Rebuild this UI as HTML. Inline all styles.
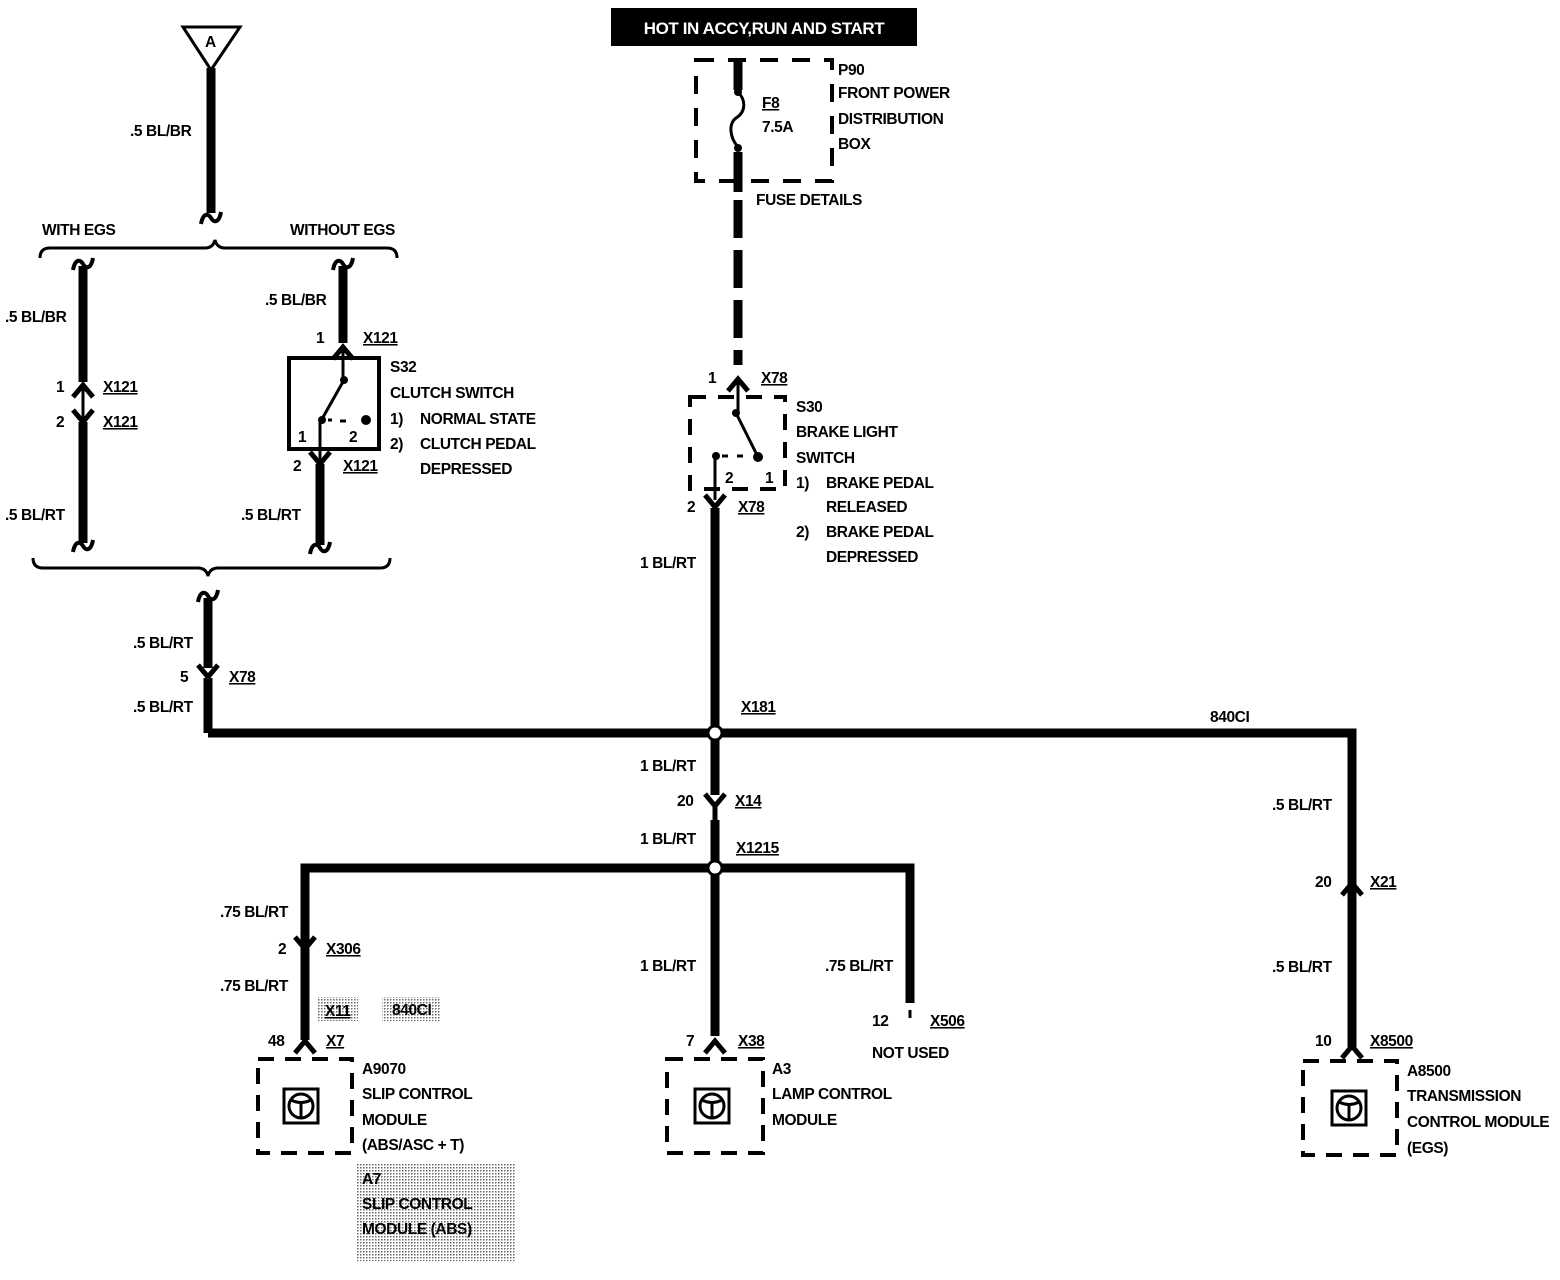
<!DOCTYPE html>
<html><head><meta charset="utf-8"><style>
html,body{margin:0;padding:0;background:#fff}
svg{display:block}
text{font-family:"Liberation Sans",sans-serif;font-size:15.5px;font-weight:bold;fill:#000;letter-spacing:-0.4px}
</style></head><body>
<svg width="1560" height="1280" viewBox="0 0 1560 1280" xmlns="http://www.w3.org/2000/svg">
<defs>
<path id="up" d="M-10,11 L0,-1 L10,11" fill="none" stroke="#000" stroke-width="5"/>
<path id="dn" d="M-10,-11 L0,1 L10,-11" fill="none" stroke="#000" stroke-width="5"/>
<path id="sq" d="M-10,6 C-8,-5 -3,-5 0,0 C3,5 8,5 10,-6" fill="none" stroke="#000" stroke-width="4"/>
<g id="mod"><rect x="-17" y="-17" width="34" height="34" fill="none" stroke="#000" stroke-width="3"/><circle cx="0" cy="0" r="12" fill="none" stroke="#000" stroke-width="3"/><path d="M0,-2 V12 M-10,-6 Q0,-1 10,-6" fill="none" stroke="#000" stroke-width="3"/></g>
<pattern id="dots" width="3" height="3" patternUnits="userSpaceOnUse"><rect width="3" height="3" fill="#fff"/><rect width="1.5" height="1.5" fill="#666"/></pattern>
</defs>

<rect x="611" y="8" width="306" height="38" fill="#000"/>
<text x="764" y="34" text-anchor="middle" style="fill:#fff;font-size:17px">HOT IN ACCY,RUN AND START</text>

<path d="M183,27 L240,27 L211,70 Z" fill="none" stroke="#000" stroke-width="3"/>
<text x="205" y="47">A</text>
<line x1="211" y1="68" x2="211" y2="213" stroke="#000" stroke-width="9"/>
<use href="#sq" x="211" y="218"/>
<text x="130" y="136">.5 BL/BR</text>

<path d="M40,258 Q40,248 50,248 L205,248 Q213,248 215,240 Q217,248 225,248 L387,248 Q397,248 397,258" fill="none" stroke="#000" stroke-width="3"/>
<text x="42" y="235">WITH EGS</text>
<text x="290" y="235">WITHOUT EGS</text>

<use href="#sq" x="83" y="264"/>
<line x1="83" y1="266" x2="83" y2="382" stroke="#000" stroke-width="9"/>
<use href="#up" x="83" y="386"/>
<line x1="83" y1="388" x2="83" y2="418" stroke="#000" stroke-width="3"/>
<use href="#dn" x="83" y="421"/>
<line x1="83" y1="422" x2="83" y2="543" stroke="#000" stroke-width="9"/>
<use href="#sq" x="83" y="546"/>
<text x="5" y="322">.5 BL/BR</text>
<text x="56" y="392">1</text>
<text x="103" y="392" text-decoration="underline">X121</text>
<text x="56" y="427">2</text>
<text x="103" y="427" text-decoration="underline">X121</text>
<text x="5" y="520">.5 BL/RT</text>

<use href="#sq" x="343" y="264"/>
<line x1="343" y1="266" x2="343" y2="343" stroke="#000" stroke-width="9"/>
<use href="#up" x="343" y="348"/>
<line x1="343" y1="350" x2="343" y2="380" stroke="#000" stroke-width="3"/>
<rect x="289" y="358" width="90" height="91" fill="none" stroke="#000" stroke-width="4"/>
<circle cx="344" cy="380" r="4"/>
<line x1="344" y1="380" x2="322" y2="419" stroke="#000" stroke-width="3"/>
<circle cx="322" cy="420" r="4"/>
<path d="M328,420 h4 M340,421 h6" stroke="#000" stroke-width="3"/>
<circle cx="366" cy="420" r="5"/>
<line x1="320" y1="420" x2="320" y2="460" stroke="#000" stroke-width="3"/>
<use href="#dn" x="320" y="463"/>
<line x1="320" y1="464" x2="320" y2="545" stroke="#000" stroke-width="9"/>
<use href="#sq" x="320" y="548"/>
<text x="265" y="305">.5 BL/BR</text>
<text x="316" y="343">1</text>
<text x="363" y="343" text-decoration="underline">X121</text>
<text x="298" y="442">1</text>
<text x="349" y="442">2</text>
<text x="293" y="471">2</text>
<text x="343" y="471" text-decoration="underline">X121</text>
<text x="241" y="520">.5 BL/RT</text>
<text x="390" y="372">S32</text>
<text x="390" y="398">CLUTCH SWITCH</text>
<text x="390" y="424">1)</text><text x="420" y="424">NORMAL STATE</text>
<text x="390" y="449">2)</text><text x="420" y="449">CLUTCH PEDAL</text>
<text x="420" y="474">DEPRESSED</text>

<path d="M33,558 Q33,568 43,568 L198,568 Q206,568 208,576 Q210,568 218,568 L380,568 Q390,568 390,558" fill="none" stroke="#000" stroke-width="3"/>
<use href="#sq" x="208" y="596"/>
<line x1="208" y1="598" x2="208" y2="668" stroke="#000" stroke-width="9"/>
<use href="#dn" x="208" y="676"/>
<line x1="208" y1="678" x2="208" y2="733" stroke="#000" stroke-width="9"/>
<text x="133" y="648">.5 BL/RT</text>
<text x="180" y="682">5</text>
<text x="229" y="682" text-decoration="underline">X78</text>
<text x="133" y="712">.5 BL/RT</text>

<path d="M208,733 H1352 V1050" fill="none" stroke="#000" stroke-width="9"/>
<text x="1210" y="722">840CI</text>
<text x="1272" y="810">.5 BL/RT</text>
<use href="#up" x="1352" y="884"/>
<text x="1315" y="887">20</text>
<text x="1370" y="887" text-decoration="underline">X21</text>
<text x="1272" y="972">.5 BL/RT</text>
<use href="#up" x="1352" y="1047"/>
<text x="1315" y="1046">10</text>
<text x="1370" y="1046" text-decoration="underline">X8500</text>
<rect x="1303" y="1061" width="94" height="94" fill="none" stroke="#000" stroke-width="4" stroke-dasharray="16,11"/>
<use href="#mod" x="1349" y="1108"/>
<text x="1407" y="1076">A8500</text>
<text x="1407" y="1101">TRANSMISSION</text>
<text x="1407" y="1127">CONTROL MODULE</text>
<text x="1407" y="1153">(EGS)</text>

<rect x="696" y="60" width="136" height="121" fill="none" stroke="#000" stroke-width="4" stroke-dasharray="18,14"/>
<line x1="738" y1="60" x2="738" y2="90" stroke="#000" stroke-width="9"/>
<circle cx="738" cy="92" r="4"/>
<path d="M738,92 C746,100 746,112 736,118 C728,124 730,138 738,147" fill="none" stroke="#000" stroke-width="3"/>
<circle cx="738" cy="148" r="4"/>
<line x1="738" y1="152" x2="738" y2="192" stroke="#000" stroke-width="9"/>
<line x1="738" y1="200" x2="738" y2="365" stroke="#000" stroke-width="9" stroke-dasharray="38,12"/>
<text x="762" y="108" text-decoration="underline">F8</text>
<text x="762" y="132">7.5A</text>
<text x="838" y="75">P90</text>
<text x="838" y="98">FRONT POWER</text>
<text x="838" y="124">DISTRIBUTION</text>
<text x="838" y="149">BOX</text>
<text x="756" y="205">FUSE DETAILS</text>

<use href="#up" x="738" y="380"/>
<line x1="738" y1="382" x2="738" y2="412" stroke="#000" stroke-width="3"/>
<rect x="690" y="397" width="95" height="92" fill="none" stroke="#000" stroke-width="4" stroke-dasharray="16,12"/>
<circle cx="736" cy="413" r="4"/>
<line x1="736" y1="413" x2="757" y2="455" stroke="#000" stroke-width="3"/>
<circle cx="758" cy="457" r="5"/>
<path d="M722,456 h6 M737,456 h6" stroke="#000" stroke-width="3"/>
<circle cx="716" cy="456" r="4"/>
<line x1="715" y1="456" x2="715" y2="500" stroke="#000" stroke-width="3"/>
<text x="725" y="483">2</text>
<text x="765" y="483">1</text>
<use href="#dn" x="715" y="506"/>
<text x="708" y="383">1</text>
<text x="761" y="383" text-decoration="underline">X78</text>
<text x="687" y="512">2</text>
<text x="738" y="512" text-decoration="underline">X78</text>
<text x="796" y="412">S30</text>
<text x="796" y="437">BRAKE LIGHT</text>
<text x="796" y="463">SWITCH</text>
<text x="796" y="488">1)</text><text x="826" y="488">BRAKE PEDAL</text>
<text x="826" y="512">RELEASED</text>
<text x="796" y="537">2)</text><text x="826" y="537">BRAKE PEDAL</text>
<text x="826" y="562">DEPRESSED</text>

<line x1="715" y1="508" x2="715" y2="795" stroke="#000" stroke-width="9"/>
<text x="640" y="568">1 BL/RT</text>
<text x="741" y="712" text-decoration="underline">X181</text>
<text x="640" y="771">1 BL/RT</text>
<use href="#dn" x="715" y="805"/>
<line x1="715" y1="807" x2="715" y2="825" stroke="#000" stroke-width="5"/>
<text x="677" y="806">20</text>
<text x="735" y="806" text-decoration="underline">X14</text>
<text x="640" y="844">1 BL/RT</text>
<line x1="715" y1="820" x2="715" y2="1036" stroke="#000" stroke-width="9"/>
<text x="736" y="853" text-decoration="underline">X1215</text>

<path d="M305,1040 V868 H910 V1003" fill="none" stroke="#000" stroke-width="9"/>
<circle cx="715" cy="733" r="7" fill="#fff" stroke="#000" stroke-width="3"/>
<circle cx="715" cy="868" r="7" fill="#fff" stroke="#000" stroke-width="3"/>

<text x="220" y="917">.75 BL/RT</text>
<use href="#dn" x="305" y="948"/>
<text x="278" y="954">2</text>
<text x="326" y="954" text-decoration="underline">X306</text>
<text x="220" y="991">.75 BL/RT</text>
<rect x="318" y="997" width="40" height="24" fill="url(#dots)"/>
<rect x="382" y="997" width="58" height="24" fill="url(#dots)"/>
<text x="325" y="1016" text-decoration="underline">X11</text>
<text x="392" y="1015">840CI</text>
<use href="#up" x="305" y="1042"/>
<text x="268" y="1046">48</text>
<text x="326" y="1046" text-decoration="underline">X7</text>
<rect x="258" y="1059" width="94" height="94" fill="none" stroke="#000" stroke-width="4" stroke-dasharray="16,11"/>
<use href="#mod" x="301" y="1106"/>
<text x="362" y="1074">A9070</text>
<text x="362" y="1099">SLIP CONTROL</text>
<text x="362" y="1125">MODULE</text>
<text x="362" y="1150">(ABS/ASC + T)</text>
<rect x="357" y="1163" width="159" height="98" fill="url(#dots)"/>
<text x="362" y="1184">A7</text>
<text x="362" y="1209">SLIP CONTROL</text>
<text x="362" y="1234">MODULE (ABS)</text>

<text x="640" y="971">1 BL/RT</text>
<use href="#up" x="715" y="1042"/>
<text x="686" y="1046">7</text>
<text x="738" y="1046" text-decoration="underline">X38</text>
<rect x="667" y="1059" width="96" height="94" fill="none" stroke="#000" stroke-width="4" stroke-dasharray="16,11"/>
<use href="#mod" x="712" y="1106"/>
<text x="772" y="1074">A3</text>
<text x="772" y="1099">LAMP CONTROL</text>
<text x="772" y="1125">MODULE</text>

<text x="825" y="971">.75 BL/RT</text>
<line x1="910" y1="1010" x2="910" y2="1018" stroke="#000" stroke-width="3"/>
<text x="872" y="1026">12</text>
<text x="930" y="1026" text-decoration="underline">X506</text>
<text x="872" y="1058">NOT USED</text>
</svg>
</body></html>
